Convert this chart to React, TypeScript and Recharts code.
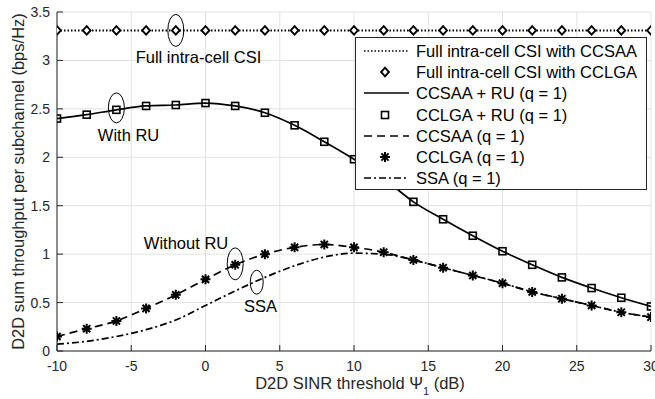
import {
  CartesianGrid,
  Legend,
  Line,
  LineChart,
  ReferenceDot,
  XAxis,
  YAxis,
} from "recharts";

const snr = [-10, -8, -6, -4, -2, 0, 2, 4, 6, 8, 10, 12, 14, 16, 18, 20, 22, 24, 26, 28, 30];
const fullCsi = [
  3.31, 3.31, 3.31, 3.31, 3.31, 3.31, 3.31, 3.31, 3.31, 3.31, 3.31,
  3.31, 3.31, 3.31, 3.31, 3.31, 3.31, 3.31, 3.31, 3.31, 3.31,
];
const withRu = [
  2.4, 2.44, 2.49, 2.53, 2.54, 2.56, 2.53, 2.46, 2.33, 2.16, 1.98,
  1.78, 1.54, 1.36, 1.19, 1.03, 0.89, 0.76, 0.65, 0.55, 0.46,
];
const withoutRu = [
  0.15, 0.23, 0.31, 0.44, 0.58, 0.74, 0.89, 1.0, 1.07, 1.1, 1.07,
  1.02, 0.94, 0.86, 0.78, 0.7, 0.61, 0.54, 0.47, 0.4, 0.35,
];
const ssa = [
  0.07, 0.1, 0.15, 0.22, 0.32, 0.47, 0.62, 0.76, 0.88, 0.97, 1.01,
  1.0, 0.94, 0.86, 0.78, 0.7, 0.61, 0.54, 0.47, 0.4, 0.35,
];

const xTicks = [-10, -5, 0, 5, 10, 15, 20, 25, 30];
const yTicks = [0, 0.5, 1, 1.5, 2, 2.5, 3, 3.5];

const legendLabels = [
  "Full intra-cell CSI with CCSAA",
  "Full intra-cell CSI with CCLGA",
  "CCSAA + RU (q = 1)",
  "CCLGA + RU (q = 1)",
  "CCSAA (q = 1)",
  "CCLGA (q = 1)",
  "SSA (q = 1)",
];

const data = snr.map((x, i) => ({
  x,
  full: fullCsi[i],
  ru: withRu[i],
  noru: withoutRu[i],
  ssa: ssa[i],
}));

const FONT = "'Liberation Sans', Arial, sans-serif";
const AX = "#262626";
const TXT = 16.5;

function Diamond({ cx, cy }: any) {
  if (cx == null || cy == null) return null;
  return (
    <path
      d={`M${cx},${cy - 4.3} L${cx + 3.9},${cy} L${cx},${cy + 4.3} L${cx - 3.9},${cy} Z`}
      fill="#fff"
      stroke="#000"
      strokeWidth={1.9}
    />
  );
}

function Square({ cx, cy }: any) {
  if (cx == null || cy == null) return null;
  return (
    <rect x={cx - 3.5} y={cy - 3.5} width={7} height={7} fill="none" stroke="#000" strokeWidth={1.6} />
  );
}

function Star({ cx, cy }: any) {
  if (cx == null || cy == null) return null;
  const r = 5;
  const d = r * 0.72;
  return (
    <path
      d={`M${cx - r},${cy} L${cx + r},${cy} M${cx},${cy - r} L${cx},${cy + r} M${cx - d},${cy - d} L${cx + d},${cy + d} M${cx - d},${cy + d} L${cx + d},${cy - d}`}
      stroke="#000"
      strokeWidth={2}
      fill="none"
    />
  );
}

function BottomTick({ x, y, payload }: any) {
  return (
    <g>
      <line x1={x} x2={x} y1={y} y2={y - 6} stroke={AX} />
      <text x={x} y={y + 20} textAnchor="middle" fontSize={14} fontFamily={FONT} fill={AX}>
        {payload.value}
      </text>
    </g>
  );
}

function LeftTick({ x, y, payload }: any) {
  return (
    <g>
      <line x1={x} x2={x + 6} y1={y} y2={y} stroke={AX} />
      <text x={x - 7} y={y + 5} textAnchor="end" fontSize={14} fontFamily={FONT} fill={AX}>
        {payload.value}
      </text>
    </g>
  );
}

function TopTick({ x, y }: any) {
  return <line x1={x} x2={x} y1={y} y2={y + 6} stroke={AX} />;
}

function RightTick({ x, y }: any) {
  return <line x1={x} x2={x - 6} y1={y} y2={y} stroke={AX} />;
}

function LegendSample({ index }: { index: number }) {
  const y = 10;
  switch (index) {
    case 0:
      return <line x1={8} x2={53} y1={y} y2={y} stroke="#000" strokeWidth={1.6} strokeDasharray="1.5 2" />;
    case 1:
      return <Diamond cx={29} cy={y} />;
    case 2:
      return <line x1={8} x2={53} y1={y} y2={y} stroke="#000" strokeWidth={1.6} />;
    case 3:
      return <Square cx={29} cy={y} />;
    case 4:
      return <line x1={8} x2={53} y1={y} y2={y} stroke="#000" strokeWidth={1.6} strokeDasharray="8 5" />;
    case 5:
      return <Star cx={29} cy={y} />;
    default:
      return <line x1={8} x2={53} y1={y} y2={y} stroke="#000" strokeWidth={1.6} strokeDasharray="7 3 2 3" />;
  }
}

function LegendBox() {
  return (
    <div
      style={{
        border: `1px solid ${AX}`,
        background: "#fff",
        boxSizing: "border-box",
        width: 292,
        height: 153,
        paddingTop: 2,
        fontFamily: FONT,
        fontSize: TXT,
        color: "#000",
      }}
    >
      {legendLabels.map((label, i) => (
        <div key={label} style={{ display: "flex", alignItems: "center", height: 21.3 }}>
          <svg width={60} height={20} style={{ flex: "none" }}>
            <LegendSample index={i} />
          </svg>
          <span style={{ whiteSpace: "nowrap", lineHeight: "20px" }}>{label}</span>
        </div>
      ))}
    </div>
  );
}

function Ring(rx: number, ry: number) {
  return ({ cx, cy }: any) => (
    <ellipse cx={cx} cy={cy} rx={rx} ry={ry} fill="none" stroke="#000" strokeWidth={1} />
  );
}

function Note(text: string) {
  return ({ cx, cy }: any) => (
    <text x={cx} y={cy + 6.3} fontSize={TXT} fontFamily={FONT} fill="#000">
      {text}
    </text>
  );
}

export default function App() {
  return (
    <div style={{ position: "absolute", left: 0, top: 0, background: "#fff" }}>
      <LineChart width={655} height={399} data={data} margin={{ top: 12, right: 4, bottom: 0, left: 0 }}>
        <CartesianGrid stroke="#e3e3e3" strokeWidth={1} />
        <XAxis
          dataKey="x"
          type="number"
          domain={[-10, 30]}
          ticks={xTicks}
          interval={0}
          tickSize={0}
          tickMargin={0}
          tickLine={false}
          tick={<BottomTick />}
          stroke={AX}
          height={48}
          allowDataOverflow
          label={(p: any) => {
            const vb = p.viewBox || { x: 57, y: 351, width: 594 };
            return (
              <text
                x={vb.x + vb.width / 2 + 6}
                y={vb.y + 38}
                textAnchor="middle"
                fontSize={TXT}
                fontFamily={FONT}
                fill={AX}
              >
                D2D SINR threshold Ψ
                <tspan fontSize={11} dy={6}>1</tspan>
                <tspan dy={-6}> (dB)</tspan>
              </text>
            );
          }}
        />
        <XAxis
          xAxisId="top"
          orientation="top"
          dataKey="x"
          type="number"
          domain={[-10, 30]}
          ticks={xTicks}
          interval={0}
          tickSize={0}
          tickMargin={0}
          tickLine={false}
          tick={<TopTick />}
          stroke={AX}
          height={0}
          allowDataOverflow
        />
        <YAxis
          type="number"
          domain={[0, 3.5]}
          ticks={yTicks}
          interval={0}
          tickSize={0}
          tickMargin={0}
          tickLine={false}
          tick={<LeftTick />}
          stroke={AX}
          width={57}
          allowDataOverflow
          label={(p: any) => {
            const vb = p.viewBox || { x: 0, y: 12, height: 339 };
            const cx = vb.x + 18;
            const cy = vb.y + vb.height / 2;
            return (
              <text
                x={cx}
                y={cy}
                transform={`rotate(-90 ${cx} ${cy})`}
                textAnchor="middle"
                dominantBaseline="central"
                fontSize={TXT}
                fontFamily={FONT}
                fill={AX}
              >
                D2D sum throughput per subchannel (bps/Hz)
              </text>
            );
          }}
        />
        <YAxis
          yAxisId="right"
          orientation="right"
          type="number"
          domain={[0, 3.5]}
          ticks={yTicks}
          interval={0}
          tickSize={0}
          tickMargin={0}
          tickLine={false}
          tick={<RightTick />}
          stroke={AX}
          width={0}
          allowDataOverflow
        />
        <Legend
          layout="vertical"
          align="center"
          verticalAlign="middle"
          content={<LegendBox />}
          wrapperStyle={{ left: 355, top: 37, width: 292, height: 153 }}
        />
        <Line
          dataKey="ssa"
          type="monotone"
          stroke="#000"
          strokeWidth={1.7}
          strokeDasharray="7 3 2 3"
          dot={false}
          activeDot={false}
          isAnimationActive={false}
          legendType="none"
        />
        <Line
          dataKey="noru"
          type="monotone"
          stroke="#000"
          strokeWidth={1.7}
          strokeDasharray="8 5"
          dot={<Star />}
          activeDot={false}
          isAnimationActive={false}
        />
        <Line
          dataKey="ru"
          type="monotone"
          stroke="#000"
          strokeWidth={1.7}
          dot={<Square />}
          activeDot={false}
          isAnimationActive={false}
        />
        <Line
          dataKey="full"
          type="linear"
          stroke="#000"
          strokeWidth={2}
          strokeDasharray="1.5 2"
          dot={<Diamond />}
          activeDot={false}
          isAnimationActive={false}
        />
        <ReferenceDot x={-2} y={3.31} shape={Ring(8, 16)} />
        <ReferenceDot x={-6} y={2.51} shape={Ring(8, 15)} />
        <ReferenceDot x={2} y={0.9} shape={Ring(8, 16)} />
        <ReferenceDot x={3.45} y={0.71} shape={Ring(6.5, 12)} />
        <ReferenceDot x={-4.7} y={3.04} shape={Note("Full intra-cell CSI")} />
        <ReferenceDot x={-7.25} y={2.23} shape={Note("With RU")} />
        <ReferenceDot x={-4.15} y={1.115} shape={Note("Without RU")} />
        <ReferenceDot x={2.6} y={0.465} shape={Note("SSA")} />
      </LineChart>
    </div>
  );
}
